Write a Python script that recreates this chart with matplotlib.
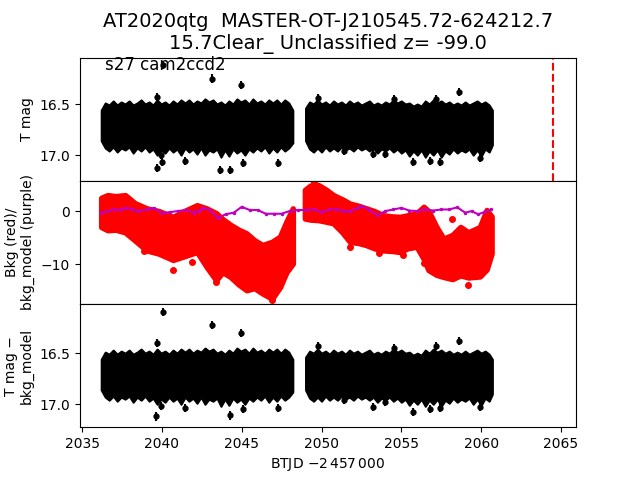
import matplotlib
matplotlib.use("Agg")
import matplotlib.pyplot as plt

# light curve envelope (T mag) at 0.25 day steps
t_seg1 = [2036.2, 2036.45, 2036.7, 2036.95, 2037.2, 2037.45, 2037.7,
          2037.95, 2038.2, 2038.45, 2038.7, 2038.95, 2039.2, 2039.45,
          2039.7, 2039.95, 2040.2, 2040.45, 2040.7, 2040.95, 2041.2,
          2041.45, 2041.7, 2041.95, 2042.2, 2042.45, 2042.7, 2042.95,
          2043.2, 2043.45, 2043.7, 2043.95, 2044.2, 2044.45, 2044.7,
          2044.95, 2045.2, 2045.45, 2045.7, 2045.95, 2046.2, 2046.45,
          2046.7, 2046.95, 2047.2, 2047.45, 2047.7, 2047.95, 2048.2]
hi_seg1 = [16.56, 16.49, 16.51, 16.47, 16.51, 16.48, 16.50,
           16.47, 16.51, 16.49, 16.46, 16.50, 16.48, 16.51,
           16.46, 16.50, 16.48, 16.51, 16.47, 16.50, 16.46,
           16.49, 16.46, 16.50, 16.47, 16.49, 16.45, 16.48,
           16.46, 16.50, 16.48, 16.51, 16.47, 16.50, 16.45,
           16.48, 16.46, 16.50, 16.45, 16.49, 16.47, 16.50,
           16.46, 16.49, 16.46, 16.50, 16.46, 16.49, 16.56]
lo_seg1 = [16.86, 16.93, 16.96, 16.92, 16.97, 16.93, 16.95,
           16.92, 16.98, 16.93, 16.96, 16.92, 16.97, 16.94,
           17.00, 16.95, 16.98, 16.93, 16.97, 16.94, 17.00,
           16.93, 16.97, 16.94, 16.99, 16.93, 17.00, 16.95,
           16.97, 16.94, 17.02, 16.95, 17.01, 16.94, 16.98,
           16.95, 17.00, 16.94, 16.97, 16.93, 16.96, 16.92,
           16.98, 16.93, 16.97, 16.92, 16.96, 16.93, 16.88]
t_seg2 = [2049.0, 2049.25, 2049.5, 2049.75, 2050.0, 2050.25, 2050.5, 2050.75,
          2051.0, 2051.25, 2051.5, 2051.75, 2052.0, 2052.25, 2052.5, 2052.75,
          2053.0, 2053.25, 2053.5, 2053.75, 2054.0, 2054.25, 2054.5, 2054.75,
          2055.0, 2055.25, 2055.5, 2055.75, 2056.0, 2056.25, 2056.5, 2056.75,
          2057.0, 2057.25, 2057.5, 2057.75, 2058.0, 2058.25, 2058.5, 2058.75,
          2059.0, 2059.25, 2059.5, 2059.75, 2060.0, 2060.25, 2060.5, 2060.7]
hi_seg2 = [16.54, 16.48, 16.50, 16.46, 16.50, 16.48, 16.51, 16.47,
           16.50, 16.48, 16.51, 16.47, 16.50, 16.48, 16.51, 16.49,
           16.47, 16.51, 16.49, 16.51, 16.48, 16.50, 16.46, 16.49,
           16.47, 16.50, 16.49, 16.52, 16.50, 16.52, 16.47, 16.50,
           16.46, 16.49, 16.47, 16.50, 16.48, 16.51, 16.49, 16.51,
           16.48, 16.51, 16.49, 16.47, 16.50, 16.48, 16.51, 16.56]
lo_seg2 = [16.86, 16.94, 16.97, 16.93, 16.97, 16.92, 16.96, 16.93,
           16.96, 16.92, 16.95, 16.93, 16.96, 16.92, 16.95, 16.93,
           16.96, 16.93, 16.98, 16.94, 16.96, 16.93, 16.97, 16.94,
           16.98, 16.95, 17.01, 16.96, 17.00, 16.95, 17.02, 16.96,
           17.00, 16.95, 17.02, 16.96, 16.99, 16.94, 16.98, 16.95,
           16.97, 16.94, 17.00, 16.95, 17.01, 16.94, 16.97, 16.90]

# isolated points, top panel
t_out_top = [2040.09, 2043.16, 2044.96, 2058.63, 2039.72, 2049.8, 2054.56, 2057.17,
             2039.68, 2039.95, 2040.0, 2041.47, 2043.64, 2044.27, 2045.1, 2047.3,
             2051.43, 2053.24, 2054.0, 2055.7, 2056.8, 2057.42, 2059.9]
m_out_top = [16.12, 16.25, 16.31, 16.38, 16.43, 16.44, 16.45, 16.45,
             17.13, 17.00, 17.07, 17.06, 17.15, 17.15, 17.08, 17.08,
             16.96, 16.99, 16.99, 17.07, 17.06, 17.07, 17.03]

# isolated points, bottom panel
t_out_bot = [2040.09, 2043.16, 2044.96, 2058.63, 2039.72, 2049.8, 2054.56, 2057.17,
             2039.63, 2039.95, 2041.47, 2044.27, 2045.1, 2047.3, 2051.43, 2053.24,
             2054.0, 2055.7, 2056.8, 2057.42, 2059.9]
m_out_bot = [16.10, 16.22, 16.30, 16.38, 16.40, 16.43, 16.45, 16.43,
             17.12, 17.02, 17.04, 17.11, 17.05, 17.04, 16.96, 17.03,
             16.98, 17.08, 17.05, 17.04, 17.03]

# background (red) envelope
t_bkg1 = [2036.2, 2036.6, 2037.1, 2037.7, 2038.3, 2039.05, 2039.8, 2040.7, 2041.4,
          2042.2, 2042.8, 2043.4, 2043.8, 2044.3, 2044.8, 2045.3, 2045.8, 2046.3,
          2046.9, 2047.4, 2047.8, 2048.2]
bkg1_hi = [2.5, 3.0, 2.8, 3.0, 1.5, 0.5, 0.0, -1.1, 0.0, 1.1, 0.5, -0.4, -1.5, -2.6,
           -3.5, -4.2, -5.5, -6.4, -5.8, -4.8, -2.0, 0.5]
bkg1_lo = [-3.0, -3.6, -3.5, -4.0, -5.5, -7.4, -8.0, -9.2, -8.5, -7.7, -10.5, -13.0,
           -11.5, -12.4, -13.8, -14.9, -14.5, -15.5, -16.5, -14.3, -11.5, -9.9]
t_bkg2 = [2048.96, 2049.3, 2049.8, 2050.3, 2050.74, 2051.3, 2051.78, 2052.3, 2052.8,
          2053.3, 2053.87, 2054.4, 2054.9, 2055.4, 2055.96, 2056.4, 2056.7, 2057.2,
          2057.64, 2058.2, 2058.7, 2059.2, 2059.92, 2060.34, 2060.65]
bkg2_hi = [4.0, 4.8, 4.9, 4.0, 3.0, 2.2, 1.4, 1.0, 0.5, 0.0, -0.8, -1.0, -1.1, -0.8,
           -0.4, 0.8, 0.0, -3.0, -5.2, -4.5, -3.0, -4.0, -3.0, 0.2, -1.0]
bkg2_lo = [-1.4, -1.6, -1.7, -2.0, -2.3, -4.0, -5.8, -6.0, -6.4, -7.0, -7.4, -7.5,
           -7.7, -7.0, -6.7, -9.0, -11.1, -12.0, -12.4, -12.8, -12.1, -12.5, -12.3,
           -11.0, -8.0]
t_bkg_out = [2040.7, 2043.4, 2051.78, 2056.4, 2059.19, 2058.2, 2046.9, 2049.5,
             2038.9, 2041.9, 2053.6, 2055.1]
bkg_out = [-11.1, -13.3, -6.8, -9.8, -14.0, -1.5, -16.8, 5.5,
           -7.6, -9.5, -7.9, -8.2]

# background model (purple)
t_model = [2036.2, 2036.6, 2037.0, 2037.4, 2037.7, 2038.1, 2038.5, 2039.1, 2039.5,
           2040.0, 2040.5, 2041.0, 2041.5, 2042.0, 2042.3, 2042.6, 2043.0, 2043.5,
           2044.0, 2044.5, 2045.0, 2045.5, 2046.0, 2046.5, 2047.0, 2047.5, 2048.0,
           2048.5, 2049.0, 2049.5, 2050.0, 2050.5, 2051.0, 2051.4, 2051.8, 2052.2,
           2052.5, 2053.0, 2053.5, 2054.0, 2054.5, 2055.0, 2055.5, 2056.0, 2056.5,
           2057.0, 2057.5, 2058.0, 2058.5, 2059.0, 2059.4, 2059.8, 2060.2, 2060.6]
bkg_model = [-0.3, 0.0, 0.3, 0.2, 0.6, 0.4, 0.0, 0.3, 0.6, -0.4, -0.2, 0.0, 0.2, -0.3,
             0.1, 0.5, 0.2, -1.3, -0.6, -0.3, 0.8, 0.2, 0.2, -0.5, -0.5, -0.5, 0.0,
             0.2, 0.2, 0.3, -0.2, 0.3, 0.3, 0.0, 0.0, 0.5, 1.0, 0.2, -0.8, 0.0, 0.3,
             0.6, 0.1, 0.0, 0.3, 0.1, 0.3, 0.3, 0.7, -0.3, 0.0, -0.6, -0.2, 0.3]

t_peak = 2064.5

fig, (ax1, ax2, ax3) = plt.subplots(3, 1, sharex=True, figsize=(6.4, 4.8), dpi=100)
fig.subplots_adjust(hspace=0)

# top and bottom: dense light curve drawn as its envelope
for t, hi, lo in [(t_seg1, hi_seg1, lo_seg1), (t_seg2, hi_seg2, lo_seg2)]:
    ax1.fill_between(t, hi, lo, color='k', lw=1.5, ec='k')
    ax3.fill_between(t, hi, lo, color='k', lw=1.5, ec='k')
ax1.errorbar(t_out_top, m_out_top, yerr=0.04, fmt='o', color='k', ms=3.5, elinewidth=1.5)
ax1.axvline(t_peak, color='r', ls='--', lw=1.5)
ax1.set_ylim(17.252, 16.045)
ax1.set_yticks([16.5, 17.0])
ax1.set_ylabel('T mag')
ax1.text(0.05, 0.9, 's27 cam2ccd2', transform=ax1.transAxes, fontsize=12)
ax1.set_title('AT2020qtg  MASTER-OT-J210545.72-624212.7\n'
              '15.7Clear_ Unclassified z= -99.0', fontsize=14)

# middle: background
for t, hi, lo in [(t_bkg1, bkg1_hi, bkg1_lo), (t_bkg2, bkg2_hi, bkg2_lo)]:
    ax2.fill_between(t, hi, lo, color='r', lw=4, ec='r')
ax2.plot(t_bkg_out, bkg_out, 'o', color='r', ms=4)
ax2.plot(t_model, bkg_model, '.-', color='m', ms=3, lw=1.5)
ax2.set_ylim(-17.5, 5.7)
ax2.set_yticks([0, -10])
ax2.set_ylabel('Bkg (red)/\nbkg_model (purple)')

# bottom: T mag - bkg_model
ax3.errorbar(t_out_bot, m_out_bot, yerr=0.04, fmt='o', color='k', ms=3.5, elinewidth=1.5)
ax3.set_ylim(17.225, 16.018)
ax3.set_yticks([16.5, 17.0])
ax3.set_ylabel('T mag −\nbkg_model')
ax3.set_xlim(2034.87, 2065.94)
ax3.set_xticks([2035, 2040, 2045, 2050, 2055, 2060, 2065])
ax3.set_xlabel('BTJD $-2\\,457\\,000$')

for ax in (ax1, ax2):
    ax.tick_params(axis='x', bottom=False)

fig.savefig('out.png')
